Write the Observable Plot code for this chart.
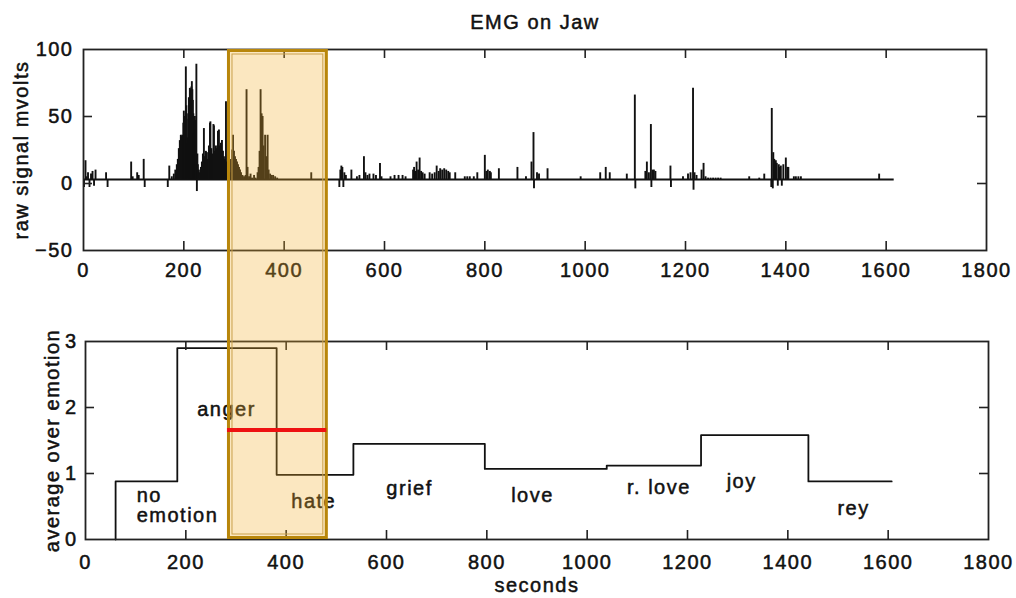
<!DOCTYPE html>
<html><head><meta charset="utf-8">
<script src="https://cdn.jsdelivr.net/npm/d3@7"></script>
<script src="https://cdn.jsdelivr.net/npm/@observablehq/plot@0.6"></script>
<style>
body{margin:0;background:#fff;}
#wrap{position:relative;width:1016px;height:598px;overflow:hidden;background:#fff;}
.panel{position:absolute;left:0;}
</style></head><body><div id="wrap"></div>
<script>
// ---------- data ----------
const title = "EMG on Jaw";
const topYLabel = "raw signal mvolts";
const bottomYLabel = "average over emotion";
const xLabel = "seconds";

const xTicks = [0, 200, 400, 600, 800, 1000, 1200, 1400, 1600, 1800];
const topYTicks = [-50, 0, 50, 100];
const topYTickLabels = ["\u221250", "0", "50", "100"];
const bottomYTicks = [0, 1, 2, 3];

// raw EMG signal: baseline and spikes (seconds, mV)
const signalBaseline = 3;
const signalStart = 0;
const signalEnd = 1616;
const spikeTime = [
  1,4,6,9,12,15,18,21,24,45,48,95,98,107,110,120,122,168,171,176,180,183,186,188,
  190,192,194,196,197,199,200,201,202,204,205,206,207,208,209,210,211,212,213,214,215,216,217,218,219,220,
  221,222,223,224,225,226,227,228,230,232,234,236,238,240,242,244,246,248,250,252,253,255,257,259,260,262,
  264,266,268,270,272,274,276,278,280,282,284,286,288,290,292,294,296,298,300,302,304,306,308,310,312,314,
  317,320,323,325,327,330,333,336,340,343,347,349,351,353,355,357,359,362,364,367,369,372,375,378,382,386,454,
  510,512,514,516,518,520,523,534,545,550,559,562,566,570,578,583,591,594,612,620,628,636,642,657,659,661,
  664,667,670,673,676,680,690,695,700,704,708,711,715,719,723,727,730,741,760,765,770,778,785,800,803,806,
  810,812,828,865,882,893,897,898,904,908,925,
  991,1030,1041,1049,1083,1099,1100,1120,1123,1127,1131,1132,1134,1137,1140,1170,1171,1195,1205,1210,1215,
  1216,1218,1222,1232,1236,1240,1245,1250,1255,1260,1265,1270,1327,1347,1357,1371,1372,1374,1375,1377,1380,
  1382,1384,1386,1388,1390,1392,1395,1400,1403,1405,1416,1420,1425,1430,1586
];
const spikeValue = [
  -3,17,5,8,-3,7,9,-2,10,8,-3,16,5,8,6,18,-3,-3,13,5,7,10,14,18,
  26,32,36,35,36,45,54,50,42,87,58,52,34,30,48,64,56,71,70,66,72,76,70,62,52,37,
  46,50,47,40,89,-6,22,14,10,8,12,16,22,41,20,24,23,18,28,45,46,26,22,44,43,24,
  28,26,39,40,28,30,32,24,20,18,61,16,12,-4,8,18,25,36,24,20,18,16,14,12,10,8,
  6,5,6,70,12,5,7,4,6,4,8,12,24,70,52,50,28,36,20,36,10,7,6,6,5,4,8,
  -3,10,13,12,-3,8,6,10,5,6,20,8,6,7,7,6,15,5,5,6,6,6,5,10,12,9,
  16,10,19,9,8,7,8,7,8,13,9,11,10,11,10,9,8,8,5,5,5,5,8,21,9,10,
  9,8,11,12,5,16,38,-4,8,7,11,
  5,8,12,8,7,66,-4,9,16,8,44,-3,10,10,9,13,-3,5,7,8,71,
  -5,8,6,10,15,5,4,4,4,4,4,4,5,4,7,-3,56,-4,23,18,17,
  15,-2,14,12,13,-2,14,19,12,12,5,5,5,5,7
];

// average EMG per emotion segment
const emotionNames = ["no\nemotion", "anger", "hate", "grief", "love", "r. love", "joy", "rey"];
const emotionStart = [60, 183, 381, 534, 796, 1039, 1227, 1441];
const emotionEnd   = [183, 381, 534, 796, 1039, 1227, 1441, 1607];
const emotionMean  = [0.88, 2.90, 0.98, 1.45, 1.07, 1.12, 1.58, 0.88];
// where each emotion name is written (seconds, average)
const emotionLabelX = [102, 281, 455, 646, 891, 1143, 1308, 1531];
const emotionLabelY = [0.52, 1.97, 0.58, 0.77, 0.67, 0.79, 0.88, 0.47];

// highlighted window and its mean level
const highlightStart = 287;
const highlightEnd = 488;
const redLineStart = 283;
const redLineEnd = 481;
const redLineLevel = 1.65;

// ---------- layout ----------
const W = 1016;
const FONT = "'Liberation Sans', Arial, Helvetica, sans-serif";
const INK = "#111";
const tickLen = 9;
const svgStyle = `font-family:${FONT};font-size:20px;letter-spacing:1.5px;overflow:visible;background:transparent;color:${INK};`;

const H1 = 300, m1 = {top: 49, bottom: 50, left: 83, right: 30};
const H2 = 298, m2 = {top: 41, bottom: 59, left: 85, right: 28};
const iw1 = W - m1.left - m1.right, ih1 = H1 - m1.top - m1.bottom;
const iw2 = W - m2.left - m2.right, ih2 = H2 - m2.top - m2.bottom;

const spikes = spikeTime.map((t, i) => ({t, v: spikeValue[i]}));
const inner = xTicks.slice(1, -1);
const txt = {fontFamily: FONT, fontSize: 20, fill: INK, stroke: INK, strokeWidth: 0.5, lineAnchor: "middle"};

function tickMarks(yInner, ih, iw) {
  return [
    Plot.tickX(inner, {x: d => d, insetTop: ih - tickLen, stroke: "#222", strokeWidth: 1.6}),
    Plot.tickX(inner, {x: d => d, insetBottom: ih - tickLen, stroke: "#222", strokeWidth: 1.6}),
    Plot.tickY(yInner, {y: d => d, insetRight: iw - tickLen, stroke: "#222", strokeWidth: 1.6}),
    Plot.tickY(yInner, {y: d => d, insetLeft: iw - tickLen, stroke: "#222", strokeWidth: 1.6})
  ];
}

const p1 = Plot.plot({
  width: W, height: H1,
  marginTop: m1.top, marginBottom: m1.bottom, marginLeft: m1.left, marginRight: m1.right,
  x: {domain: [0, 1800], axis: null},
  y: {domain: [-50, 100], axis: null},
  style: svgStyle,
  marks: [
    Plot.ruleY([signalBaseline], {x1: signalStart, x2: signalEnd, stroke: INK, strokeWidth: 1.8}),
    Plot.ruleX(spikes, {x: "t", y1: signalBaseline, y2: "v", stroke: INK, strokeWidth: 1.9}),
    Plot.frame({stroke: "#222", strokeWidth: 1.8}),
    ...tickMarks([0, 50], ih1, iw1),
    Plot.text(xTicks, {x: d => d, frameAnchor: "bottom", dy: 20, text: d => String(d), ...txt}),
    Plot.text(topYTicks, {y: d => d, frameAnchor: "left", dx: -10, textAnchor: "end",
      text: (d, i) => topYTickLabels[i], ...txt}),
    Plot.text([title], {frameAnchor: "top", dy: -27, text: d => d, ...txt}),
    Plot.text([topYLabel], {frameAnchor: "left", dx: -62, rotate: -90, textAnchor: "middle", text: d => d, ...txt})
  ]
});

// step line from emotion segments
const steps = [{t: emotionStart[0], v: 0}];
emotionStart.forEach((s, i) => {
  steps.push({t: s, v: emotionMean[i]});
  steps.push({t: emotionEnd[i], v: emotionMean[i]});
});
const labels = emotionNames.map((n, i) => ({n, x: emotionLabelX[i], y: emotionLabelY[i]}));

const p2 = Plot.plot({
  width: W, height: H2,
  marginTop: m2.top, marginBottom: m2.bottom, marginLeft: m2.left, marginRight: m2.right,
  x: {domain: [0, 1800], axis: null},
  y: {domain: [0, 3], axis: null},
  style: svgStyle,
  marks: [
    Plot.line(steps, {x: "t", y: "v", stroke: INK, strokeWidth: 1.8}),
    Plot.frame({stroke: "#222", strokeWidth: 1.8}),
    ...tickMarks([1, 2], ih2, iw2),
    Plot.text(labels.slice(0, 1), {x: "x", y: "y", text: "n", textAnchor: "start", lineHeight: 1, ...txt}),
    Plot.text(labels.slice(1), {x: "x", y: "y", text: "n", ...txt}),
    Plot.text(xTicks, {x: d => d, frameAnchor: "bottom", dy: 23, text: d => String(d), ...txt}),
    Plot.text(bottomYTicks, {y: d => d, frameAnchor: "left", dx: -8, textAnchor: "end", text: d => String(d), ...txt}),
    Plot.text([bottomYLabel], {frameAnchor: "left", dx: -33, rotate: -90, textAnchor: "middle", text: d => d, ...txt}),
    Plot.text([xLabel], {frameAnchor: "bottom", dy: 46, text: d => d, ...txt})
  ]
});

const wrap = document.getElementById("wrap");
const d1 = document.createElement("div"); d1.className = "panel"; d1.style.top = "0px"; d1.appendChild(p1);
const d2 = document.createElement("div"); d2.className = "panel"; d2.style.top = H1 + "px"; d2.appendChild(p2);
wrap.appendChild(d1); wrap.appendChild(d2);

// highlight window overlay, positioned with the plots' own scales
const sx1 = p1.scale("x"), sy1 = p1.scale("y");
const sx2 = p2.scale("x"), sy2 = p2.scale("y");
const hx1 = sx1.apply(highlightStart), hx2 = sx1.apply(highlightEnd);
const hy1 = sy1.apply(100), hy2 = H1 + sy2.apply(0);
const ov = d3.create("svg").attr("width", W).attr("height", 598)
  .style("position", "absolute").style("left", 0).style("top", 0);
ov.append("rect").attr("x", hx1).attr("y", hy1).attr("width", hx2 - hx1).attr("height", hy2 - hy1)
  .attr("fill", "rgb(242,175,45)").attr("fill-opacity", 0.3);
ov.append("rect").attr("x", hx1 + 1.5).attr("y", hy1 + 1.5).attr("width", hx2 - hx1 - 3).attr("height", hy2 - hy1 - 3)
  .attr("fill", "none").attr("stroke", "#b8860b").attr("stroke-width", 3);
ov.append("rect").attr("x", hx1 + 5).attr("y", hy1 + 5).attr("width", hx2 - hx1 - 10).attr("height", hy2 - hy1 - 10)
  .attr("fill", "none").attr("stroke", "#c9a04a").attr("stroke-width", 1);
ov.append("line")
  .attr("x1", sx2.apply(redLineStart)).attr("x2", sx2.apply(redLineEnd))
  .attr("y1", H1 + sy2.apply(redLineLevel)).attr("y2", H1 + sy2.apply(redLineLevel))
  .attr("stroke", "#ee1111").attr("stroke-width", 4);
wrap.appendChild(ov.node());
</script>
</body></html>
